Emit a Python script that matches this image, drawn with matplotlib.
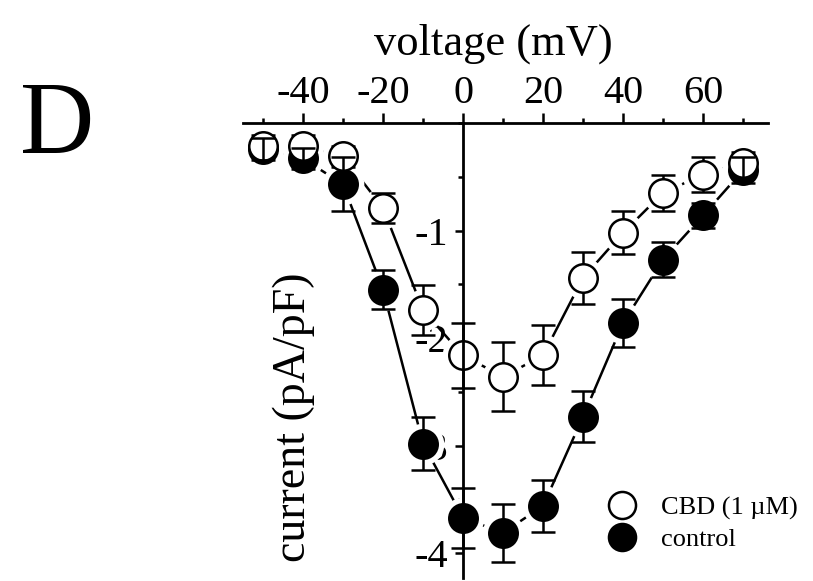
import matplotlib
matplotlib.use("Agg")
import matplotlib.pyplot as plt
from matplotlib.ticker import MultipleLocator

plt.rcParams['font.family'] = ['Liberation Serif', 'DejaVu Serif']
plt.rcParams['axes.unicode_minus'] = False

# I-V relation, mean +/- SEM
voltage = [-50, -40, -30, -20, -10, 0, 10, 20, 30, 40, 50, 60, 70]
control = [-0.24, -0.33, -0.57, -1.55, -2.98, -3.67, -3.81, -3.56, -2.73, -1.86, -1.27, -0.86, -0.44]
control_sem = [0.10, 0.10, 0.25, 0.18, 0.25, 0.28, 0.27, 0.24, 0.24, 0.22, 0.16, 0.12, 0.12]
cbd = [-0.21, -0.21, -0.31, -0.79, -1.74, -2.16, -2.36, -2.16, -1.44, -1.02, -0.65, -0.48, -0.37]
cbd_sem = [0.10, 0.10, 0.10, 0.14, 0.23, 0.30, 0.32, 0.28, 0.24, 0.20, 0.17, 0.16, 0.10]

fig = plt.figure(figsize=(8.13, 5.81), dpi=100)
ax = fig.add_axes([0.2989, 0.0052, 0.6458, 0.7831])
ax.set_xlim(-55, 76.25)
ax.set_ylim(-4.23, 0)

# axes cross at the origin: x axis along the top, y axis at 0 mV
ax.spines['bottom'].set_visible(False)
ax.spines['right'].set_visible(False)
ax.spines['left'].set_position(('data', 0))
for s in ('top', 'left'):
    ax.spines[s].set_linewidth(2)
    ax.spines[s].set_zorder(10)
ax.xaxis.tick_top()
ax.yaxis.tick_left()
ax.xaxis.set_major_locator(MultipleLocator(20))
ax.xaxis.set_minor_locator(MultipleLocator(10))
ax.yaxis.set_minor_locator(MultipleLocator(0.5))
ax.set_yticks([-1, -2, -3, -4])
ax.tick_params(axis='x', which='major', direction='out', length=7, width=1.8, pad=1, labelsize=29)
ax.tick_params(axis='x', which='minor', direction='out', length=3.6, width=1.8)
ax.tick_params(axis='y', which='major', direction='out', length=5.8, width=1.8, pad=5, labelsize=29)
ax.tick_params(axis='y', which='minor', direction='out', length=3.6, width=1.8)

# connecting lines, with white halos so they stop short of the symbols
ax.plot(voltage, control, color='k', lw=1.8, zorder=2)
ax.plot(voltage, cbd, color='k', lw=1.8, zorder=2)
for ys in (control, cbd):
    ax.plot(voltage, ys, ls='none', marker='o', ms=30, mfc='white', mec='none', zorder=2.2)

ax.errorbar(voltage, cbd, yerr=cbd_sem, fmt='none', ecolor='k', elinewidth=1.8,
            capsize=8.5, capthick=1.8, zorder=3)
h_ctrl, = ax.plot(voltage, control, ls='none', marker='o', ms=20.5, mfc='k', mec='k',
                  mew=1.8, zorder=4, clip_on=False)
h_cbd, = ax.plot(voltage, cbd, ls='none', marker='o', ms=20.5, mfc='white', mec='k',
                 mew=1.8, zorder=5, clip_on=False)
ax.errorbar(voltage, control, yerr=control_sem, fmt='none', ecolor='k', elinewidth=1.8,
            capsize=8.5, capthick=1.8, zorder=6)

ax.xaxis.set_label_position('top')
ax.set_xlabel('voltage (mV)', fontsize=32)
ax.xaxis.set_label_coords(0.476, 1.15)
ax.set_ylabel('current (pA/pF)', fontsize=33)
ax.yaxis.set_label_coords(0.137, 0.354)

ax.legend([h_cbd, h_ctrl], ['CBD (1 µM)', 'control'], loc='upper left',
          bbox_to_anchor=(609 / 813, 1 - 496 / 581), bbox_transform=fig.transFigure,
          frameon=False, fontsize=19, markerscale=0.95, handlelength=1.0,
          handletextpad=0.96, labelspacing=0.3, borderpad=0, borderaxespad=0)

fig.text(20 / 813, 1 - 153 / 581, 'D', fontsize=74, va='baseline', ha='left')

fig.savefig('out.png', dpi=100)
